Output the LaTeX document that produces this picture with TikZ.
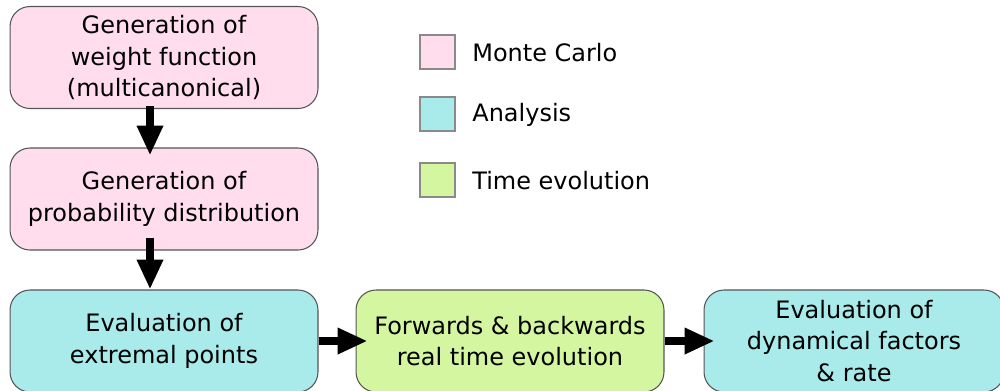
\documentclass[tikz,border=0pt]{standalone}
\usepackage{fontspec}
\setmainfont{DejaVu Sans}
\usetikzlibrary{arrows.meta,calc}
\definecolor{mcpink}{HTML}{FFDDEC}
\definecolor{ancyan}{HTML}{A9EAEA}
\definecolor{tegreen}{HTML}{D5F6A0}
\definecolor{boxedge}{HTML}{555555}
\definecolor{legedge}{HTML}{8A8A8A}
\tikzset{
  flowbox/.style={draw=boxedge, line width=0.6pt, rounded corners=0.4cm,
    minimum width=6.16cm, minimum height=2.04cm, align=center, inner sep=0pt,
    font=\fontsize{13.65pt}{17.8pt}\selectfont},
  legbox/.style={draw=legedge, line width=0.6pt, minimum width=0.7cm, minimum height=0.68cm, inner sep=0pt},
  legtext/.style={anchor=west, inner sep=0pt, font=\fontsize{13.65pt}{17.8pt}\selectfont},
  bigarrow/.style={line width=5.1pt, -{Triangle[length=17pt,width=14pt]}}
}
\begin{document}
\begin{tikzpicture}[x=0.02cm,y=-0.02cm]
\useasboundingbox (0,0) rectangle (1000,390);
\node[flowbox, fill=mcpink] (b1) at (164,57.5) {Generation of\\weight function\\(multicanonical)};
\node[flowbox, fill=mcpink] (b2) at (164,199) {Generation of\\probability distribution};
\node[flowbox, fill=ancyan] (b3) at (164,341) {Evaluation of\\extremal points};
\node[flowbox, fill=tegreen] (b4) at (510,341) {Forwards \& backwards\\real time evolution};
\node[flowbox, fill=ancyan, minimum width=6.0cm] (b5) at (854,341) {Evaluation of\\dynamical factors\\\& rate};
\node[legbox, fill=mcpink] (l1) at (437.5,52) {};
\node[legbox, fill=ancyan] (l2) at (437.5,114) {};
\node[legbox, fill=tegreen] (l3) at (437.5,180) {};
\node[legtext] (t1) at (472,53) {Monte Carlo};
\node[legtext] (t2) at (472,115) {Analysis};
\node[legtext] (t3) at (472,181) {Time evolution};
\draw[bigarrow] ($(b1.south)+(-14,-3)$) -- ($(b2.north)+(-14,8)$);
\draw[bigarrow] ($(b2.south)+(-14,-13)$) -- ($(b3.north)+(-14,0)$);
\draw[bigarrow] (b3.east) -- ($(b4.west)+(12,0)$);
\draw[bigarrow] (b4.east) -- ($(b5.west)+(11,0)$);
\end{tikzpicture}
\end{document}
